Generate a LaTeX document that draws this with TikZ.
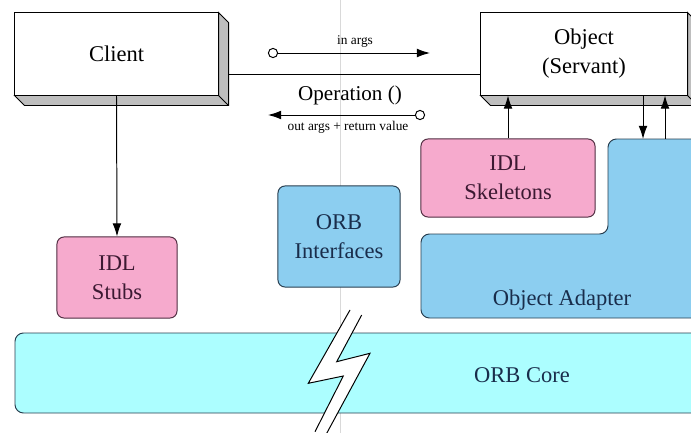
\documentclass[tikz,border=0pt]{standalone}
\usepackage{fontspec}
\setmainfont{Liberation Serif}
\usetikzlibrary{arrows.meta}

\definecolor{idlpink}{RGB}{246,170,205}
\definecolor{pinkline}{RGB}{80,45,65}
\definecolor{pinktext}{RGB}{60,25,50}
\definecolor{orbblue}{RGB}{140,206,240}
\definecolor{blueline}{RGB}{40,62,80}
\definecolor{bluetext}{RGB}{25,45,75}
\definecolor{corecyan}{RGB}{172,254,255}
\definecolor{side}{RGB}{190,190,190}

\begin{document}
\begin{tikzpicture}[x=0.025cm, y=-0.025cm, line width=0.7pt,
 big/.style={font=\fontsize{16}{20.5}\selectfont},
 small/.style={font=\fontsize{9.5}{11}\selectfont},
 solidbox/.style={draw, fill=white, minimum height=2.05cm, big, align=center},
 pinkbox/.style={draw=pinkline, fill=idlpink, text=pinktext, rounded corners=5pt, big, align=center},
 bluebox/.style={draw=blueline, fill=orbblue, text=bluetext, rounded corners=5pt, big, align=center},
 port/.style={circle, draw, fill=white, inner sep=0pt, minimum size=2.3mm},
 >={Latex[length=3.3mm,width=2.2mm]}]
 \useasboundingbox (0,0) rectangle (691,433);
 \draw[black!15, line width=0.4pt] (340,0) -- (340,433);

 % ORB core with the break
 \draw[blueline, fill=corecyan, rounded corners=6pt] (15,333) rectangle (730,413);
 \node[big, text=bluetext] (core) at (522,375) {ORB Core};
 \fill[white] (350,310) -- (308.3,383.3) -- (343.3,376) -- (315,431.7) -- (326.7,433.3)
  -- (370,353.3) -- (336.7,361.7) -- (361.7,315) -- cycle;
 \draw (350,310) -- (308.3,383.3) -- (343.3,376) -- (315,431.7);
 \draw (361.7,315) -- (336.7,361.7) -- (370,353.3) -- (326.7,433.3);

 % object adapter
 \draw[blueline, fill=orbblue, rounded corners=6pt] (421,234) -- (608,234) -- (608,139)
  -- (730,139) -- (730,318) -- (421,318) -- cycle;
 \node[big, text=bluetext] (adapter) at (562,300) {Object Adapter};

 \node[solidbox, minimum width=5.075cm] (client) at (116.5,54) {Client};
 \node[solidbox, minimum width=5.15cm] (object) at (584,54) {Object\\(Servant)};
 \foreach \n in {client,object}{
  \filldraw[fill=side] (\n.north east) -- ++(10,10) -- ([shift={(10,10)}]\n.south east)
   -- ([shift={(10,10)}]\n.south west) -- (\n.south west) -- (\n.south east) -- cycle;
  \draw (\n.south east) -- ++(10,10);
 }

 \node[pinkbox, minimum width=3cm, minimum height=2.025cm] (stubs) at (117,277.5) {IDL\\Stubs};
 \node[bluebox, minimum width=3.05cm, minimum height=2.525cm] (iface) at (339,236.5) {ORB\\Interfaces};
 \node[pinkbox, minimum width=4.35cm, minimum height=1.95cm] (skel) at (508,178) {IDL\\Skeletons};

 \draw ([shift={(10,20)}]client.east) -- ([shift={(0,20)}]object.west);
 \draw[->] (client.south) -- (stubs.north);
 \draw[->] (skel.north) -- (skel.north |- object.south);
 \coordinate (oadown) at (643,139);
 \coordinate (oaup) at (665,139);
 \draw[->] (oadown |- object.south) -- (oadown);
 \draw[->] (oaup) -- (oaup |- object.south);

 % operation call
 \node[port] (inport) at (273,53) {};
 \coordinate (inend) at (430,53);
 \draw[->] (inport) -- (inend);
 \node[small] (inlbl) at (355,42) {in args};
 \node[font=\fontsize{15}{18}\selectfont] (op) at (350,95) {Operation ()};
 \node[port] (outport) at (420,115) {};
 \coordinate (outend) at (268,115);
 \draw[->] (outport) -- (outend);
 \node[small] (outlbl) at (348,127) {out args + return value};
\end{tikzpicture}
\end{document}
